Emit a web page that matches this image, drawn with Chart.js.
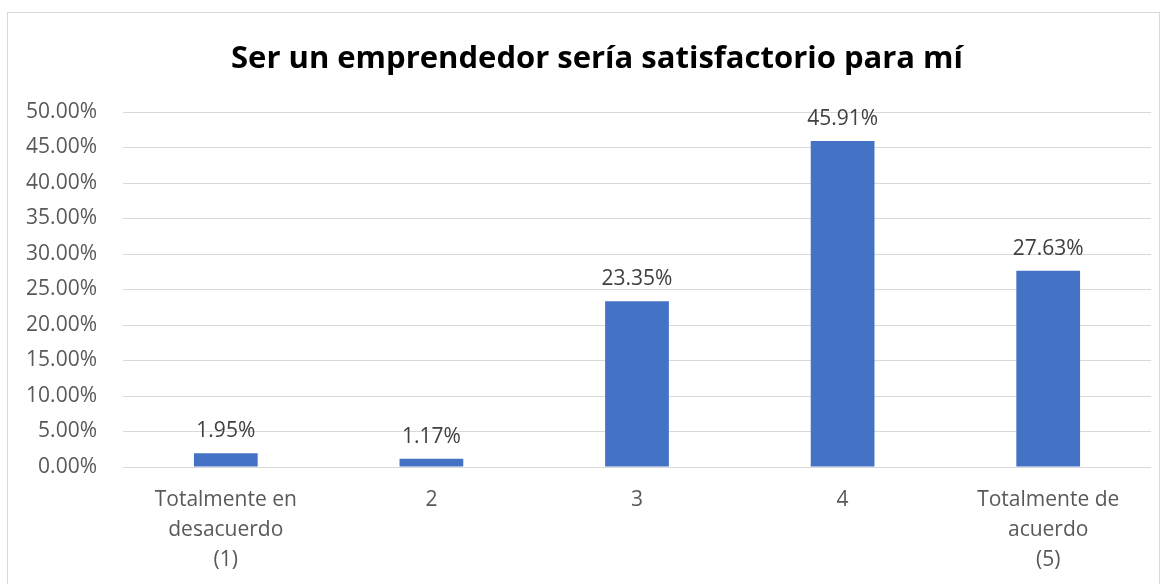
<!DOCTYPE html>
<html>
<head>
<meta charset="utf-8">
<script src="https://cdn.jsdelivr.net/npm/chart.js@4/dist/chart.umd.min.js"></script>
<style>
  html, body { margin: 0; padding: 0; background: #ffffff; }
  #wrap { width: 1168px; height: 584px; position: relative; }
</style>
</head>
<body>
<div id="wrap"><canvas id="barChart"></canvas></div>
<script>
const categories = [
  ["Totalmente en", "desacuerdo", "(1)"],
  "2",
  "3",
  "4",
  ["Totalmente de", "acuerdo", "(5)"],
];
const values = [0.0195, 0.0117, 0.2335, 0.4591, 0.2763];
const yTicks = [0, 0.05, 0.1, 0.15, 0.2, 0.25, 0.3, 0.35, 0.4, 0.45, 0.5];
const chartTitle = "Ser un emprendedor sería satisfactorio para mí";

const fontFamily = "'Open Sans', sans-serif";
const pct = (v) => (v * 100).toFixed(2) + "%";

const barCanvas = document.getElementById("barChart");
const barChart = new Chart(barCanvas, {
  type: "bar",
  data: {
    labels: categories,
    datasets: [
      {
        label: chartTitle,
        data: values,
        backgroundColor: "#4472C4",
        borderWidth: 0,
        categoryPercentage: 1,
        barPercentage: 0.31,
      },
    ],
  },
  options: {
    responsive: true,
    maintainAspectRatio: false,
    animation: false,
    layout: {
      padding: { left: 7, right: 17, top: 112, bottom: 0 },
    },
    plugins: {
      legend: { display: false },
      tooltip: { enabled: false },
      title: { display: false },
    },
    scales: {
      y: {
        min: 0,
        max: 0.5,
        afterBuildTicks: (scale) => {
          scale.ticks = yTicks.map((v) => ({ value: v }));
        },
        afterFit: (scale) => {
          scale.width = 116;
        },
        border: { display: false },
        grid: { color: "#d9d9d9", lineWidth: 1, drawTicks: false },
        ticks: {
          padding: 26,
          color: "#595959",
          font: { family: fontFamily, size: 21 },
          callback: (v) => pct(v),
        },
      },
      x: {
        afterFit: (scale) => {
          scale.height = 117;
        },
        border: { display: false },
        grid: { display: false, drawTicks: false },
        ticks: {
          padding: 18,
          color: "#595959",
          maxRotation: 0,
          autoSkip: false,
          font: { family: fontFamily, size: 21, lineHeight: 1.43 },
        },
      },
    },
  },
  plugins: [
    {
      id: "frame_background",
      beforeDraw: (chart) => {
        const { ctx } = chart;
        ctx.save();
        ctx.fillStyle = "#ffffff";
        ctx.fillRect(0, 0, chart.width, chart.height);
        ctx.strokeStyle = "#d9d9d9";
        ctx.lineWidth = 1;
        ctx.strokeRect(7.5, 12.5, 1152, 600);
        ctx.restore();
      },
    },
    {
      // title sits a little right of the canvas centre in the original
      id: "offset_title",
      afterDraw: (chart) => {
        const { ctx } = chart;
        ctx.save();
        ctx.fillStyle = "#000000";
        ctx.font = "bold 31px " + fontFamily;
        ctx.textAlign = "center";
        ctx.textBaseline = "middle";
        ctx.fillText(chartTitle, 597, 59);
        ctx.restore();
      },
    },
    {
      id: "value_labels",
      afterDatasetsDraw: (chart) => {
        const { ctx } = chart;
        const meta = chart.getDatasetMeta(0);
        ctx.save();
        ctx.fillStyle = "#404040";
        ctx.font = "21px " + fontFamily;
        ctx.textAlign = "center";
        ctx.textBaseline = "alphabetic";
        meta.data.forEach((bar, i) => {
          ctx.fillText(pct(values[i]), bar.x, bar.y - 16);
        });
        ctx.restore();
      },
    },
  ],
});
</script>
</body>
</html>
